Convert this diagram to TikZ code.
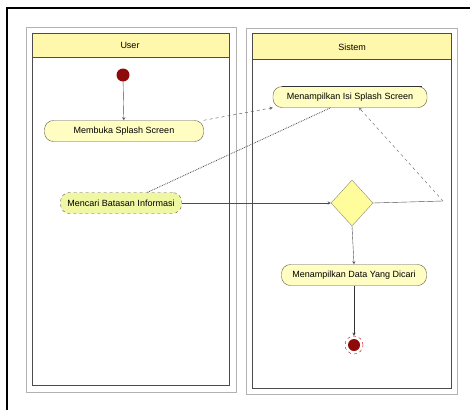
\documentclass[tikz,border=0pt]{standalone}
\usepackage{fontspec}
\setmainfont{Liberation Sans}
\usepackage{tikz}
\usetikzlibrary{shapes}
\usetikzlibrary{positioning}
\usepackage{xcolor}
\definecolor{laneyellow}{HTML}{FFF8AC}
\definecolor{actfill}{HTML}{FFFDC2}
\definecolor{selfill}{HTML}{F0F7A2}
\definecolor{actline}{HTML}{5E5A40}
\definecolor{dotred}{HTML}{8E0B0B}

\begin{document}
\begin{tikzpicture}[x=1pt, y=-1pt, >=stealth,
       activity/.style={draw=actline, fill=actfill, rounded corners=9pt, minimum height=21pt, inner xsep=4pt, font=\fontsize{9}{10}\selectfont},
       lanehead/.style={font=\fontsize{9}{10}\selectfont}]
       \useasboundingbox (0,0) rectangle (470,410);
       \fill[white] (0,0) rectangle (470,410);
       \draw[line width=2pt] (7,410) -- (7,8) -- (470,8);

       \draw[gray!60, line width=1pt] (26,27) rectangle (236,392);
       \fill[laneyellow] (32,33) rectangle (229,57);
       \draw[black!70, line width=1pt] (32,33) rectangle (229,385);
       \draw[black!70] (32,57) -- (229,57);
       \node[lanehead] (userlane) at (130,45) {User};

       \draw[gray!60, line width=1pt] (246,28) rectangle (457,394);
       \fill[laneyellow] (252,33) rectangle (451,59);
       \draw[black!70, line width=1pt] (252,33) rectangle (451,388);
       \draw[black!70] (252,59) -- (451,59);
       \node[lanehead] (sistemlane) at (352,47) {Sistem};

       \node[circle, fill=dotred, minimum size=13pt, inner sep=0pt] (start) at (123,75) {};
       \node[activity, minimum width=159pt] (membuka) at (124,131) {Membuka Splash Screen};
       \node[activity, minimum width=121pt, fill=selfill, dashed] (mencari) at (121,203) {Mencari Batasan Informasi};
       \node[activity, minimum width=154pt] (splash) at (350,97) {Menampilkan Isi Splash Screen};
       \node[diamond, draw=actline!70, fill=actfill!80!yellow, minimum width=42pt, minimum height=46pt, inner sep=0pt] (decision) at (352,203) {};
       \node[activity, minimum width=145pt] (data) at (354,275) {Menampilkan Data Yang Dicari};
       \node[circle, fill=dotred, minimum size=12pt, inner sep=0pt] (end) at (354,345) {};
       \node[circle, draw=red!80!black, dashed, minimum size=18pt, inner sep=0pt] (endring) at (354,345) {};
       \coordinate (loopback) at (443,201);

       \draw[black!80, line width=1.2pt] ([xshift=9pt]splash.north west) -- ([xshift=-5pt]splash.north east);

       \draw[->, black!70] (start) -- (membuka);
       \draw[->, black!70, dashed] (membuka.north east) -- (splash.south west);
       \draw[black!70, densely dotted, thick] (mencari.22) -- (splash.209);
       \draw[->, black!70] (mencari.east) -- (decision.west);
       \draw[black!70] (decision.east) -- (loopback);
       \draw[->, black!60, dashed] (loopback) -- (splash.310);
       \draw[->, black!70] (decision.south) -- (data.north);
       \draw[->, black!80] (data.south) -- (endring);
    \end{tikzpicture}
\end{document}
